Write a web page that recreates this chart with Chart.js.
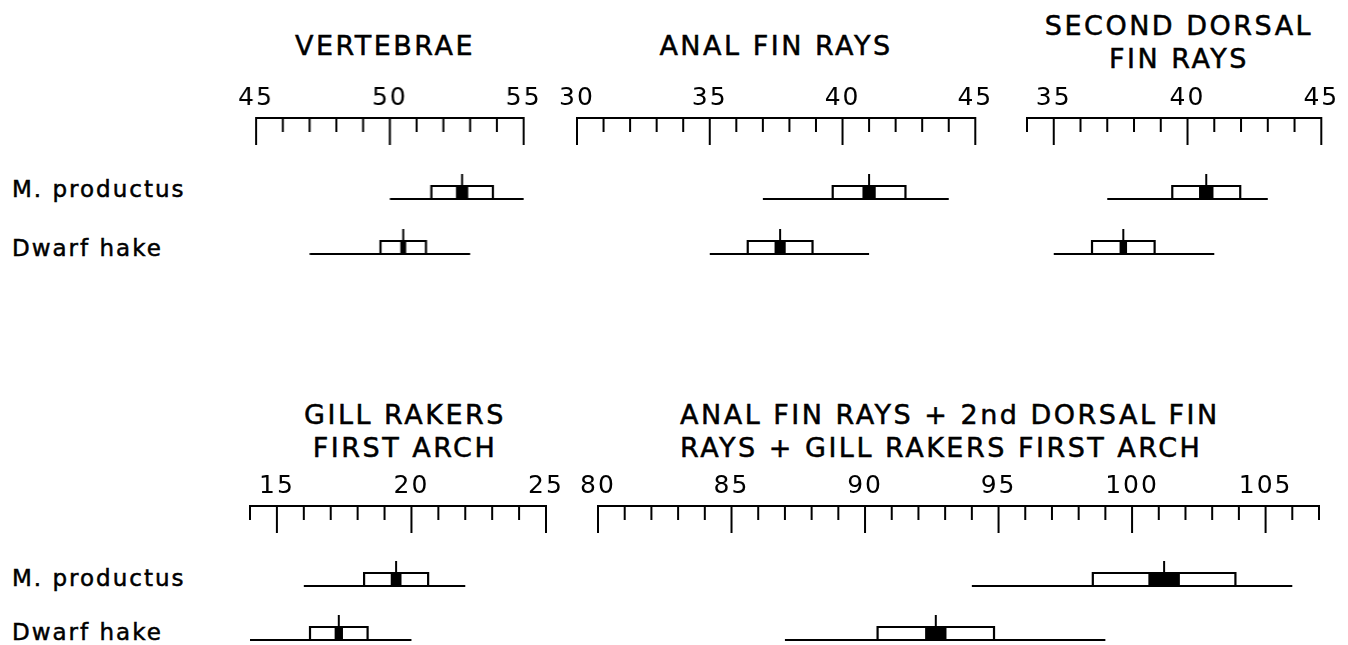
<!DOCTYPE html>
<html>
<head>
<meta charset="utf-8">
<script src="https://cdn.jsdelivr.net/npm/chart.js@4.4.0/dist/chart.umd.min.js"></script>
<style>
  html, body { margin: 0; padding: 0; background: #fff; overflow: hidden; width: 1348px; height: 645px; }
  .wrap { position: absolute; }
  .title {
    position: absolute; font-family: "DejaVu Sans"; font-size: 27px; line-height: 33px;
    letter-spacing: 2.5px; color: #000; white-space: nowrap; -webkit-text-stroke: 0.5px #000;
  }
  .title.center { text-align: center; transform: translateX(-50%); }
  .row {
    position: absolute; left: 12px; font-family: "DejaVu Sans"; font-size: 23px;
    line-height: 23px; letter-spacing: 2px; color: #000; white-space: nowrap; -webkit-text-stroke: 0.5px #000;
  }
</style>
</head>
<body>
<script>
const species = ["M. productus", "Dwarf hake"];

// range = [min, max], open box = mean +/- SD, black box = mean +/- 2SE
const vertebraeAxis = [45, 55];
const vertebraeTicks = [45, 50, 55];
const vertebraeRange = [[50, 55], [47, 53]];
const vertebraeMean = [52.7, 50.5];
const vertebraeSD = [1.15, 0.85];
const vertebraeSE = [0.23, 0.11];

const analAxis = [30, 45];
const analTicks = [30, 35, 40, 45];
const analRange = [[37, 44], [35, 41]];
const analMean = [41.0, 37.65];
const analSD = [1.37, 1.22];
const analSE = [0.25, 0.21];

const dorsalAxis = [34, 45];
const dorsalTicks = [35, 40, 45];
const dorsalRange = [[37, 43], [35, 41]];
const dorsalMean = [40.7, 37.6];
const dorsalSD = [1.27, 1.17];
const dorsalSE = [0.27, 0.14];

const gillAxis = [14, 25];
const gillTicks = [15, 20, 25];
const gillRange = [[16, 22], [14, 20]];
const gillMean = [19.43, 17.3];
const gillSD = [1.19, 1.07];
const gillSE = [0.2, 0.155];

const totalAxis = [80, 107];
const totalTicks = [80, 85, 90, 95, 100, 105];
const totalRange = [[94, 106], [87, 99]];
const totalMean = [101.2, 92.65];
const totalSD = [2.67, 2.18];
const totalSE = [0.59, 0.4];

// layout
const PLOT_H = 145;
const BOX_H = 13;
const MEAN_H = 25;
const MAJOR_TICK = 27;
const MINOR_TICK = 14;
const PAD = 25;

const panels = [
  { title: ["VERTEBRAE"], titleX: 385, titleY: 28.5, align: "center",
    axis: vertebraeAxis, ticks: vertebraeTicks, range: vertebraeRange, mean: vertebraeMean, sd: vertebraeSD, se: vertebraeSE,
    left: 256, right: 522.7, axisY: 118, rows: [81, 136] },
  { title: ["ANAL FIN RAYS"], titleX: 776, titleY: 28.5, align: "center",
    axis: analAxis, ticks: analTicks, range: analRange, mean: analMean, sd: analSD, se: analSE,
    left: 576.7, right: 975, axisY: 118, rows: [81, 136] },
  { title: ["SECOND DORSAL", "FIN RAYS"], titleX: 1179, titleY: 9, align: "center",
    axis: dorsalAxis, ticks: dorsalTicks, range: dorsalRange, mean: dorsalMean, sd: dorsalSD, se: dorsalSE,
    left: 1026.7, right: 1321, axisY: 118, rows: [81, 136] },
  { title: ["GILL RAKERS", "FIRST ARCH"], titleX: 405, titleY: 397.5, align: "center",
    axis: gillAxis, ticks: gillTicks, range: gillRange, mean: gillMean, sd: gillSD, se: gillSE,
    left: 250, right: 546, axisY: 506, rows: [80, 134] },
  { title: ["ANAL FIN RAYS + 2nd DORSAL FIN", "RAYS + GILL RAKERS FIRST ARCH"], titleX: 680, titleY: 397.5, align: "left",
    axis: totalAxis, ticks: totalTicks, range: totalRange, mean: totalMean, sd: totalSD, se: totalSE,
    left: 598, right: 1319, axisY: 506, rows: [80, 134] }
];

const rowLabelTops = [[177.5, 236.5], [566.5, 620.5]];

const spacedLabels = {
  id: "spacedLabels",
  beforeUpdate(chart) { chart.ctx.letterSpacing = "2px"; },
  beforeDraw(chart) { chart.ctx.letterSpacing = "2px"; }
};

// axis line with ticks hanging below it
const hangingTicks = {
  id: "hangingTicks",
  afterDatasetsDraw(chart) {
    const xs = chart.scales.x;
    const top = chart.chartArea.top;
    const ctx = chart.ctx;
    ctx.save();
    ctx.strokeStyle = "#000";
    ctx.lineWidth = 2;
    ctx.lineCap = "butt";
    ctx.beginPath();
    ctx.moveTo(xs.getPixelForValue(xs.min) - 1, top);
    ctx.lineTo(xs.getPixelForValue(xs.max) + 1, top);
    xs.ticks.forEach(function (t) {
      const px = xs.getPixelForValue(t.value);
      const len = Math.round(t.value) % 5 === 0 ? MAJOR_TICK : MINOR_TICK;
      ctx.moveTo(px, top);
      ctx.lineTo(px, top + len);
    });
    ctx.stroke();
    ctx.restore();
  }
};

function buildDatasets(p) {
  const sets = [];
  species.forEach(function (name, i) {
    const y = p.rows[i];
    const lo = p.range[i][0], hi = p.range[i][1];
    const m = p.mean[i], sd = p.sd[i], se = p.se[i];
    sets.push({ label: name + " mean", order: 0, borderWidth: 2,
      data: [{ x: m, y: y }, { x: m, y: y - MEAN_H }] });
    sets.push({ label: name + " 2SE", order: 1, borderWidth: BOX_H + 1,
      data: [{ x: m - se, y: y - BOX_H / 2 }, { x: m + se, y: y - BOX_H / 2 }] });
    sets.push({ label: name + " SD", order: 2, borderWidth: 2.2,
      data: [{ x: m - sd, y: y }, { x: m - sd, y: y - BOX_H }, { x: m + sd, y: y - BOX_H },
             { x: m + sd, y: y }, { x: m - sd, y: y }] });
    sets.push({ label: name + " range", order: 3, borderWidth: 2.2,
      data: [{ x: lo, y: y }, { x: hi, y: y }] });
  });
  return sets.map(function (s) {
    return Object.assign({
      borderColor: "#000", backgroundColor: "#000", pointRadius: 0, fill: false,
      clip: false, tension: 0, borderCapStyle: "butt", borderJoinStyle: "miter"
    }, s);
  });
}

function addTitle(p) {
  const d = document.createElement("div");
  d.className = "title" + (p.align === "center" ? " center" : "");
  d.style.left = p.titleX + "px";
  d.style.top = p.titleY + "px";
  d.innerHTML = p.title.join("<br>");
  document.body.appendChild(d);
}

function makeChart(p) {
  const wrap = document.createElement("div");
  wrap.className = "wrap";
  wrap.style.left = (p.left - PAD) + "px";
  wrap.style.top = (p.axisY - 40) + "px";
  wrap.style.width = (p.right - p.left + 2 * PAD) + "px";
  wrap.style.height = (PLOT_H + 40) + "px";
  const canvas = document.createElement("canvas");
  wrap.appendChild(canvas);
  document.body.appendChild(wrap);

  const chart = new Chart(canvas, {
    type: "line",
    data: { datasets: buildDatasets(p) },
    options: {
      responsive: true,
      maintainAspectRatio: false,
      animation: false,
      events: [],
      layout: { padding: { left: PAD, right: PAD, top: 0, bottom: 0 } },
      plugins: { legend: { display: false }, tooltip: { enabled: false } },
      scales: {
        x: {
          type: "linear",
          position: "top",
          min: p.axis[0],
          max: p.axis[1],
          grid: { display: false, drawTicks: false },
          border: { display: false },
          ticks: {
            stepSize: 1,
            autoSkip: false,
            maxRotation: 0,
            padding: 5,
            color: "#000",
            font: { family: "DejaVu Sans", size: 25 },
            callback: function (v) {
              const r = Math.round(v);
              return Math.abs(v - r) < 1e-6 && p.ticks.includes(r) ? String(r) : "";
            }
          }
        },
        y: { type: "linear", display: false, reverse: true, min: 0, max: PLOT_H }
      }
    },
    plugins: [spacedLabels, hangingTicks]
  });

  // put the chart area exactly on the axis span
  const a = chart.chartArea;
  const padL = a.left, padR = chart.width - a.right;
  const padT = a.top, padB = chart.height - a.bottom;
  wrap.style.left = (p.left - padL) + "px";
  wrap.style.top = (p.axisY - padT) + "px";
  wrap.style.width = (p.right - p.left + padL + padR) + "px";
  wrap.style.height = (PLOT_H + padT + padB) + "px";
  chart.resize();
  return chart;
}

panels.forEach(function (p) {
  addTitle(p);
  makeChart(p);
});

rowLabelTops.forEach(function (tops) {
  species.forEach(function (name, i) {
    const d = document.createElement("div");
    d.className = "row";
    d.style.top = tops[i] + "px";
    d.textContent = name;
    document.body.appendChild(d);
  });
});
</script>
</body>
</html>
